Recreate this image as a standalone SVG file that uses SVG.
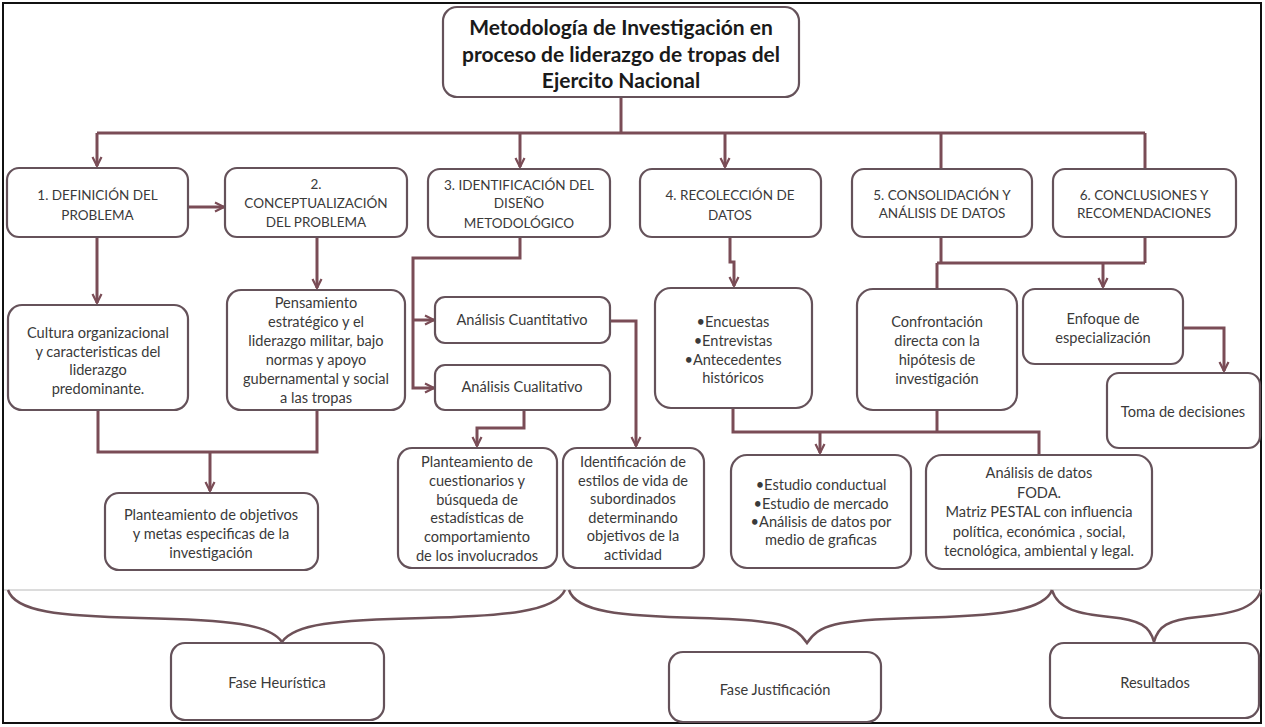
<svg xmlns="http://www.w3.org/2000/svg" width="1265" height="727" viewBox="0 0 1265 727">
<defs>
<marker id="arr" viewBox="0 0 12 12" refX="10" refY="6" markerWidth="12" markerHeight="12" markerUnits="userSpaceOnUse" orient="auto">
<path d="M1,1.5 L10,6 L1,10.5" fill="none" stroke="#7a4c56" stroke-width="2.2"/>
</marker>
</defs>
<style>
.box{fill:#fff;stroke:#65525a;stroke-width:2.2}
.t{font-family:Lato,'Liberation Sans',sans-serif;font-size:14.6px;fill:#3a3a3a;text-anchor:middle}
.h{font-size:13.5px}
.ttl{font-family:Lato,'Liberation Sans',sans-serif;font-size:21px;font-weight:bold;fill:#1a1a1a;text-anchor:middle}
.c{fill:none;stroke:#7a4c56;stroke-width:3}
.a{marker-end:url(#arr)}
.br{fill:none;stroke:#6e5158;stroke-width:2.5}
</style>
<rect x="3" y="3" width="1258" height="720" fill="#fff" stroke="#111" stroke-width="2"/>
<line x1="4" y1="590" x2="1261" y2="590" stroke="#d0d0d0" stroke-width="1.5"/>

<g id="connectors">
<path class="c" d="M621,97 V133"/>
<path class="c" d="M97,133 H1145"/>
<path class="c a" d="M97,133 V166"/>
<path class="c a" d="M520,133 V167"/>
<path class="c a" d="M725,133 V167"/>
<path class="c" d="M941,133 V169"/>
<path class="c" d="M1145,133 V169"/>
<path class="c a" d="M188,207 H224"/>
<path class="c a" d="M97,237 V303"/>
<path class="c a" d="M317,237 V288"/>
<path class="c" d="M98,410 V452 H317 V410"/>
<path class="c a" d="M210,452 V491"/>
<path class="c a" d="M520,237 V258 H413 V388 H434"/>
<path class="c a" d="M413,320 H434"/>
<path class="c a" d="M610,321 H636 V446"/>
<path class="c a" d="M524,410 V428 H477 V446"/>
<path class="c a" d="M730,237 V262 H734 V286"/>
<path class="c" d="M941,237 V263"/>
<path class="c" d="M1145,237 V263"/>
<path class="c" d="M937,263 H1145"/>
<path class="c" d="M937,263 V289"/>
<path class="c a" d="M1103,263 V287"/>
<path class="c a" d="M1183,328 H1224 V371"/>
<path class="c" d="M733,408 V432 H1039 V455"/>
<path class="c" d="M937,410 V432"/>
<path class="c a" d="M820,432 V453"/>
</g>

<g id="braces">
<path class="br" d="M8,590 C15,612 60,616 140,618 C230,620 270,624 282,642 C294,624 334,620 424,618 C504,616 555,612 565,590"/>
<path class="br" d="M569,590 C576,612 620,616 700,618 C780,620 795,625 807,643 C819,625 834,620 914,618 C994,616 1044,612 1052,590"/>
<path class="br" d="M1052,590 C1058,610 1080,614 1110,617 C1140,620 1150,626 1154,642 C1158,626 1168,620 1198,617 C1228,614 1255,610 1261,590"/>
</g>

<g id="n-title">
<rect class="box" x="443" y="7" width="356" height="90" rx="14"/>
<text class="ttl"><tspan x="621" y="35">Metodología de Investigación en</tspan><tspan x="621" y="62">proceso de liderazgo de tropas del</tspan><tspan x="621" y="88">Ejercito Nacional</tspan></text>
</g>

<g id="n1">
<rect class="box" x="7" y="168" width="181" height="69" rx="12"/>
<text class="t h"><tspan x="97.5" y="200">1. DEFINICIÓN DEL</tspan><tspan x="97.5" y="220">PROBLEMA</tspan></text>
</g>
<g id="n2">
<rect class="box" x="225" y="168" width="182" height="69" rx="12"/>
<text class="t h"><tspan x="316" y="189">2.</tspan><tspan x="316" y="208">CONCEPTUALIZACIÓN</tspan><tspan x="316" y="227">DEL PROBLEMA</tspan></text>
</g>
<g id="n3">
<rect class="box" x="428" y="169" width="182" height="68" rx="12"/>
<text class="t h"><tspan x="519" y="190">3. IDENTIFICACIÓN DEL</tspan><tspan x="519" y="208">DISEÑO</tspan><tspan x="519" y="228">METODOLÓGICO</tspan></text>
</g>
<g id="n4">
<rect class="box" x="640" y="169" width="181" height="68" rx="12"/>
<text class="t h"><tspan x="730" y="200">4. RECOLECCIÓN DE</tspan><tspan x="730" y="220">DATOS</tspan></text>
</g>
<g id="n5">
<rect class="box" x="852" y="169" width="180" height="68" rx="12"/>
<text class="t h"><tspan x="942" y="200">5. CONSOLIDACIÓN Y</tspan><tspan x="942" y="218">ANÁLISIS DE DATOS</tspan></text>
</g>
<g id="n6">
<rect class="box" x="1053" y="169" width="183" height="68" rx="12"/>
<text class="t h"><tspan x="1144" y="200">6. CONCLUSIONES Y</tspan><tspan x="1144" y="218">RECOMENDACIONES</tspan></text>
</g>

<g id="n-cultura">
<rect class="box" x="8" y="305" width="180" height="105" rx="14"/>
<text class="t"><tspan x="98" y="338">Cultura organizacional</tspan><tspan x="98" y="356.5">y caracteristicas del</tspan><tspan x="98" y="375">liderazgo</tspan><tspan x="98" y="393.5">predominante.</tspan></text>
</g>
<g id="n-pensamiento">
<rect class="box" x="227" y="290" width="178" height="120" rx="14"/>
<text class="t"><tspan x="316" y="308">Pensamiento</tspan><tspan x="316" y="327">estratégico y el</tspan><tspan x="316" y="346">liderazgo militar, bajo</tspan><tspan x="316" y="365">normas y apoyo</tspan><tspan x="316" y="384">gubernamental y social</tspan><tspan x="316" y="403">a las tropas</tspan></text>
</g>
<g id="n-cuantitativo">
<rect class="box" x="435" y="297" width="175" height="46" rx="10"/>
<text class="t"><tspan x="522" y="325">Análisis Cuantitativo</tspan></text>
</g>
<g id="n-cualitativo">
<rect class="box" x="435" y="365" width="175" height="45" rx="10"/>
<text class="t"><tspan x="522" y="392">Análisis Cualitativo</tspan></text>
</g>
<g id="n-encuestas">
<rect class="box" x="655" y="288" width="157" height="120" rx="16"/>
<text class="t"><tspan x="733" y="327">•Encuestas</tspan><tspan x="733" y="346">•Entrevistas</tspan><tspan x="733" y="365">•Antecedentes</tspan><tspan x="733" y="383">históricos</tspan></text>
</g>
<g id="n-confrontacion">
<rect class="box" x="857" y="289" width="160" height="121" rx="16"/>
<text class="t"><tspan x="937" y="327">Confrontación</tspan><tspan x="937" y="346">directa con la</tspan><tspan x="937" y="365">hipótesis de</tspan><tspan x="937" y="384">investigación</tspan></text>
</g>
<g id="n-enfoque">
<rect class="box" x="1023" y="289" width="160" height="75" rx="12"/>
<text class="t"><tspan x="1103" y="324">Enfoque de</tspan><tspan x="1103" y="343">especialización</tspan></text>
</g>
<g id="n-toma">
<rect class="box" x="1107" y="373" width="153" height="75" rx="12"/>
<text class="t"><tspan x="1183" y="417">Toma de decisiones</tspan></text>
</g>

<g id="n-objetivos">
<rect class="box" x="105" y="493" width="213" height="77" rx="14"/>
<text class="t"><tspan x="211" y="520">Planteamiento de objetivos</tspan><tspan x="211" y="539">y metas especificas de la</tspan><tspan x="211" y="558">investigación</tspan></text>
</g>
<g id="n-cuestionarios">
<rect class="box" x="398" y="448" width="159" height="120" rx="14"/>
<text class="t"><tspan x="477" y="467">Planteamiento de</tspan><tspan x="477" y="486">cuestionarios y</tspan><tspan x="477" y="505">búsqueda de</tspan><tspan x="477" y="523">estadísticas de</tspan><tspan x="477" y="542">comportamiento</tspan><tspan x="477" y="561">de los involucrados</tspan></text>
</g>
<g id="n-identificacion">
<rect class="box" x="563" y="448" width="141" height="120" rx="14"/>
<text class="t"><tspan x="633" y="467">Identificación de</tspan><tspan x="633" y="486">estilos de vida de</tspan><tspan x="633" y="504">subordinados</tspan><tspan x="633" y="523">determinando</tspan><tspan x="633" y="541">objetivos de la</tspan><tspan x="633" y="560">actividad</tspan></text>
</g>
<g id="n-estudio">
<rect class="box" x="731" y="455" width="180" height="113" rx="16"/>
<text class="t"><tspan x="821" y="490">•Estudio conductual</tspan><tspan x="821" y="509">•Estudio de mercado</tspan><tspan x="821" y="527">•Análisis de datos por</tspan><tspan x="821" y="545">medio de graficas</tspan></text>
</g>
<g id="n-analisis">
<rect class="box" x="926" y="455" width="226" height="114" rx="16"/>
<text class="t"><tspan x="1039" y="478">Análisis de datos</tspan><tspan x="1039" y="498">FODA.</tspan><tspan x="1039" y="517">Matriz PESTAL con influencia</tspan><tspan x="1039" y="537">política, económica , social,</tspan><tspan x="1039" y="556">tecnológica, ambiental y legal.</tspan></text>
</g>

<g id="n-heuristica">
<rect class="box" x="171" y="643" width="213" height="77" rx="14"/>
<text class="t"><tspan x="277" y="688">Fase Heurística</tspan></text>
</g>
<g id="n-justificacion">
<rect class="box" x="669" y="652" width="212" height="70" rx="14"/>
<text class="t"><tspan x="775" y="695">Fase Justificación</tspan></text>
</g>
<g id="n-resultados">
<rect class="box" x="1050" y="643" width="209" height="75" rx="14"/>
<text class="t"><tspan x="1155" y="688">Resultados</tspan></text>
</g>
</svg>
